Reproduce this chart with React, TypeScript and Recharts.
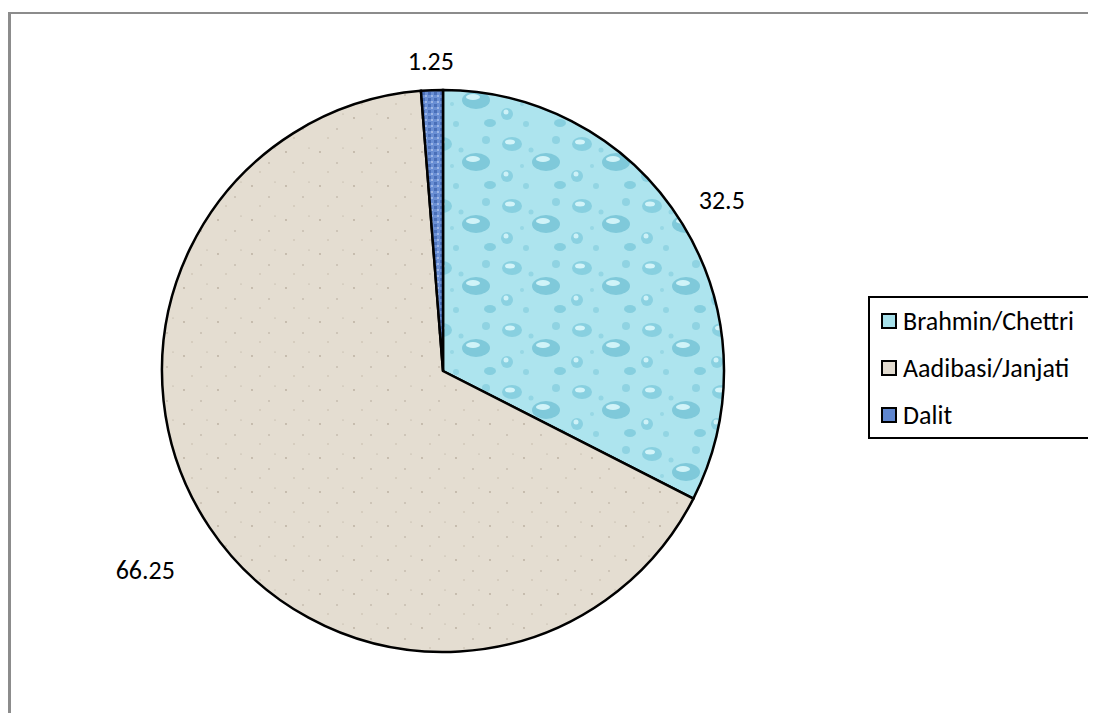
import { PieChart, Pie, Cell, Legend } from 'recharts'

const categories = ['Brahmin/Chettri', 'Aadibasi/Janjati', 'Dalit']
const values = [32.5, 66.25, 1.25]

const fills = ['url(#drops)', 'url(#sand)', 'url(#denim)']
const swatches = ['#a6e0ea', '#e2dbcf', '#5f86cf']
// distance of each value label outside the rim
const labelGap = [46, 77, 29]

const data = categories.map((name, i) => ({ name, value: values[i] }))

const FONT = 'Carlito, Calibri, Lato, sans-serif'
const RAD = Math.PI / 180

function renderLabel(props: any) {
  const { cx, cy, midAngle, outerRadius, value, index } = props
  const r = outerRadius + labelGap[index]
  const x = cx + r * Math.cos(-midAngle * RAD)
  const y = cy + r * Math.sin(-midAngle * RAD)
  return (
    <text x={x} y={y} textAnchor="middle" dominantBaseline="central"
      fill="#000" fontSize={26} fontFamily={FONT}>
      {value}
    </text>
  )
}

function LegendBox() {
  return (
    <div style={{
      width: 219, height: 139, border: '2px solid #000', background: '#fff',
      fontFamily: FONT, fontSize: 26, color: '#000', boxSizing: 'content-box',
    }}>
      {categories.map((c, i) => (
        <div key={c} style={{ display: 'flex', alignItems: 'center', height: 48, marginTop: i === 0 ? -1 : -1, paddingLeft: 11 }}>
          <span style={{
            width: 12, height: 12, border: '2px solid #000', background: swatches[i],
            marginRight: 6, display: 'inline-block',
          }} />
          <span>{c}</span>
        </div>
      ))}
    </div>
  )
}

export default function App() {
  return (
    <div style={{ position: 'relative', width: 1088, height: 705, overflow: 'hidden', background: '#fff' }}>
      <div style={{
        position: 'absolute', left: 0, top: 4, width: 1300, height: 900,
        borderTop: '2px solid #8c8c8c', borderLeft: '3px solid #8c8c8c',
      }} />
      <div style={{ position: 'absolute', left: 0, top: 0 }}>
        <PieChart width={1088} height={705}>
          <defs>
            <pattern id="drops" width="70" height="62" patternUnits="userSpaceOnUse">
              <rect width="70" height="62" fill="#ade4ee" />
              <ellipse cx="14" cy="12" rx="10" ry="7" fill="#88d0e0" />
              <ellipse cx="12" cy="10" rx="5" ry="2.5" fill="#d2f4f9" />
              <ellipse cx="48" cy="30" rx="14" ry="9" fill="#7fc9da" />
              <ellipse cx="45" cy="27" rx="7" ry="3" fill="#d0f3f8" />
              <circle cx="58" cy="8" r="4" fill="#8fd3e2" />
              <circle cx="9" cy="44" r="6" fill="#8ad1e1" />
              <circle cx="8" cy="42" r="2.5" fill="#cdf1f7" />
              <circle cx="28" cy="54" r="3" fill="#92d5e3" />
              <circle cx="33" cy="18" r="2.5" fill="#93d6e4" />
              <ellipse cx="62" cy="53" rx="6" ry="4" fill="#86cfdf" />
              <circle cx="24" cy="34" r="2" fill="#97d8e5" />
            </pattern>
            <pattern id="sand" width="34" height="34" patternUnits="userSpaceOnUse">
              <rect width="34" height="34" fill="#e4ddd1" />
              <circle cx="6" cy="8" r="0.9" fill="#b9ae9e" />
              <circle cx="23" cy="19" r="0.7" fill="#a89c8c" />
              <circle cx="14" cy="28" r="0.8" fill="#c4b9a9" />
              <circle cx="29" cy="4" r="0.6" fill="#b0a595" />
            </pattern>
            <pattern id="denim" width="6" height="6" patternUnits="userSpaceOnUse">
              <rect width="6" height="6" fill="#6a8fd4" />
              <rect x="0" y="0" width="3" height="3" fill="#4a6fb8" />
              <rect x="3" y="3" width="2" height="2" fill="#9db6e6" />
            </pattern>
          </defs>
          <Pie
            data={data}
            dataKey="value"
            nameKey="name"
            cx={430}
            cy={358}
            outerRadius={281}
            startAngle={90}
            endAngle={-270}
            stroke="#000"
            strokeWidth={2.5}
            label={renderLabel}
            labelLine={false}
            isAnimationActive={false}
          >
            {data.map((d, i) => (
              <Cell key={d.name} fill={fills[i]} />
            ))}
          </Pie>
          <Legend
            content={() => <LegendBox />}
            wrapperStyle={{ position: 'absolute', left: 860, top: 288, width: 'auto' }}
          />
        </PieChart>
      </div>
    </div>
  )
}
